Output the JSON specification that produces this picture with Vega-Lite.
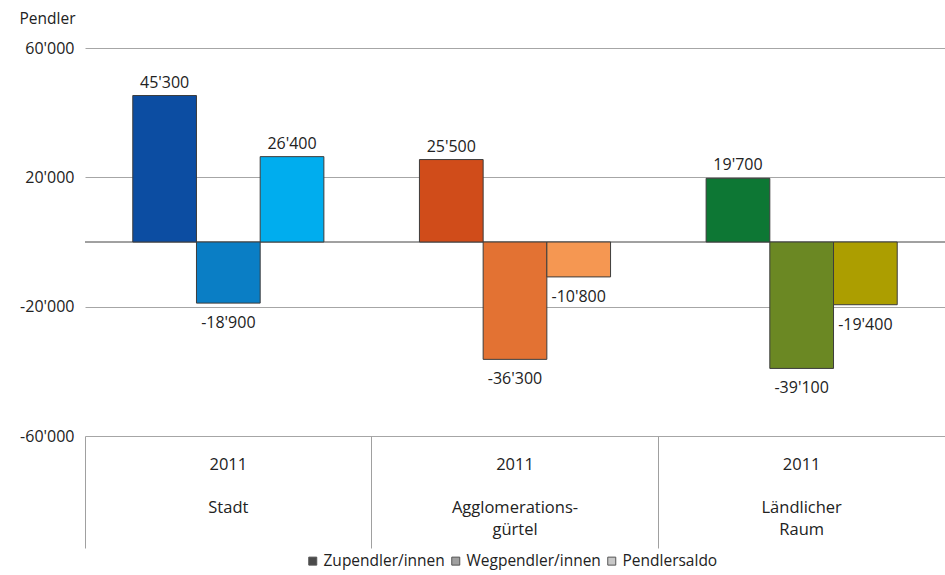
{
  "$schema": "https://vega.github.io/schema/vega-lite/v6.json",
  "width": 860,
  "height": 388,
  "autosize": "none",
  "padding": {"left": 85, "top": 48, "right": 0, "bottom": 139},
  "config": {
    "locale": {"number": {"decimal": ".", "thousands": "'", "grouping": [3], "currency": ["", ""], "minus": "-"}},
    "view": {"stroke": null},
    "font": "Open Sans",
    "text": {"font": "Open Sans"}
  },
  "data": {
    "values": [
      {"region": "Stadt", "serie": "Zupendler/innen", "balken": "Stadt Zu", "wert": 45300},
      {"region": "Stadt", "serie": "Wegpendler/innen", "balken": "Stadt Weg", "wert": -18900},
      {"region": "Stadt", "serie": "Pendlersaldo", "balken": "Stadt Saldo", "wert": 26400},
      {"region": "Agglomerationsgürtel", "serie": "Zupendler/innen", "balken": "Agglo Zu", "wert": 25500},
      {"region": "Agglomerationsgürtel", "serie": "Wegpendler/innen", "balken": "Agglo Weg", "wert": -36300},
      {"region": "Agglomerationsgürtel", "serie": "Pendlersaldo", "balken": "Agglo Saldo", "wert": -10800},
      {"region": "Ländlicher Raum", "serie": "Zupendler/innen", "balken": "Land Zu", "wert": 19700},
      {"region": "Ländlicher Raum", "serie": "Wegpendler/innen", "balken": "Land Weg", "wert": -39100},
      {"region": "Ländlicher Raum", "serie": "Pendlersaldo", "balken": "Land Saldo", "wert": -19400}
    ]
  },
  "encoding": {
    "x": {
      "field": "region",
      "type": "nominal",
      "sort": ["Stadt", "Agglomerationsgürtel", "Ländlicher Raum"],
      "scale": {"paddingInner": 0, "paddingOuter": 0},
      "axis": {
        "title": null,
        "domain": false,
        "bandPosition": 0,
        "ticks": true,
        "tickSize": 112,
        "tickColor": "#a0a0a0",
        "tickWidth": 1,
        "labelOffset": 0,
        "labelAngle": 0,
        "labelAlign": "center",
        "labelBaseline": "top",
        "labelPadding": -92,
        "labelFontSize": 16.5,
        "labelLineHeight": 21.7,
        "labelColor": "#222222",
        "labelOverlap": false,
        "labelBound": false,
        "labelExpr": "datum.value == 'Stadt' ? ['2011', '\u2800', 'Stadt'] : datum.value == 'Agglomerationsgürtel' ? ['2011', '\u2800', 'Agglomerations-', 'gürtel'] : ['2011', '\u2800', 'Ländlicher', 'Raum']"
      }
    },
    "xOffset": {
      "field": "serie",
      "type": "nominal",
      "sort": ["Zupendler/innen", "Wegpendler/innen", "Pendlersaldo"],
      "scale": {"paddingInner": 0, "paddingOuter": 0.75}
    },
    "y": {
      "field": "wert",
      "type": "quantitative",
      "scale": {"domain": [-60000, 60000], "nice": false, "zero": false},
      "axis": {
        "values": [-60000, -20000, 20000, 60000],
        "format": ",d",
        "grid": true,
        "gridColor": "#a6a6a6",
        "gridWidth": 1,
        "domain": false,
        "ticks": false,
        "labelPadding": 11,
        "labelFontSize": 16,
        "labelColor": "#222222",
        "title": "Pendler",
        "titleAngle": 0,
        "titleAlign": "left",
        "titleBaseline": "middle",
        "titleX": -66,
        "titleY": -30,
        "titleFontSize": 15.5,
        "titleFontWeight": "normal",
        "titleColor": "#222222"
      }
    }
  },
  "layer": [
    {
      "mark": {"type": "rule", "color": "#a0a0a0", "strokeWidth": 1},
      "encoding": {"y": {"datum": 0}, "x": {"value": 0}, "x2": {"value": 860}, "xOffset": null}
    },
    {
      "mark": {"type": "bar", "stroke": "#3c3c3c", "strokeWidth": 1},
      "encoding": {
        "color": {
          "field": "balken",
          "type": "nominal",
          "scale": {
            "domain": ["Stadt Zu", "Stadt Weg", "Stadt Saldo", "Agglo Zu", "Agglo Weg", "Agglo Saldo", "Land Zu", "Land Weg", "Land Saldo"],
            "range": ["#0c4da2", "#0a7ec5", "#00adee", "#d04c1a", "#e37233", "#f59752", "#0d7734", "#6b8823", "#ac9e00"]
          },
          "legend": null
        }
      }
    },
    {
      "mark": {"type": "square", "opacity": 0},
      "encoding": {
        "fill": {
          "field": "serie",
          "type": "nominal",
          "sort": ["Zupendler/innen", "Wegpendler/innen", "Pendlersaldo"],
          "scale": {"range": ["#4a4a4a", "#a0a0a0", "#c8c8c8"]},
          "legend": {
            "orient": "none",
            "legendX": 220,
            "legendY": 505,
            "direction": "horizontal",
            "title": null,
            "padding": 0,
            "symbolType": "square",
            "symbolSize": 64,
            "symbolOpacity": 1,
            "symbolStrokeColor": "#555555",
            "symbolStrokeWidth": 1,
            "labelFontSize": 15.5,
            "labelColor": "#222222",
            "labelOffset": 3,
            "columnPadding": 3
          }
        }
      }
    },
    {
      "transform": [{"filter": "datum.wert > 0"}],
      "mark": {"type": "text", "baseline": "alphabetic", "dy": -8, "fontSize": 16, "color": "#222222"},
      "encoding": {"text": {"field": "wert", "type": "quantitative", "format": ",d"}}
    },
    {
      "transform": [{"filter": "datum.wert < 0"}],
      "mark": {"type": "text", "baseline": "alphabetic", "dy": 25, "fontSize": 16, "color": "#222222"},
      "encoding": {"text": {"field": "wert", "type": "quantitative", "format": ",d"}}
    }
  ]
}
